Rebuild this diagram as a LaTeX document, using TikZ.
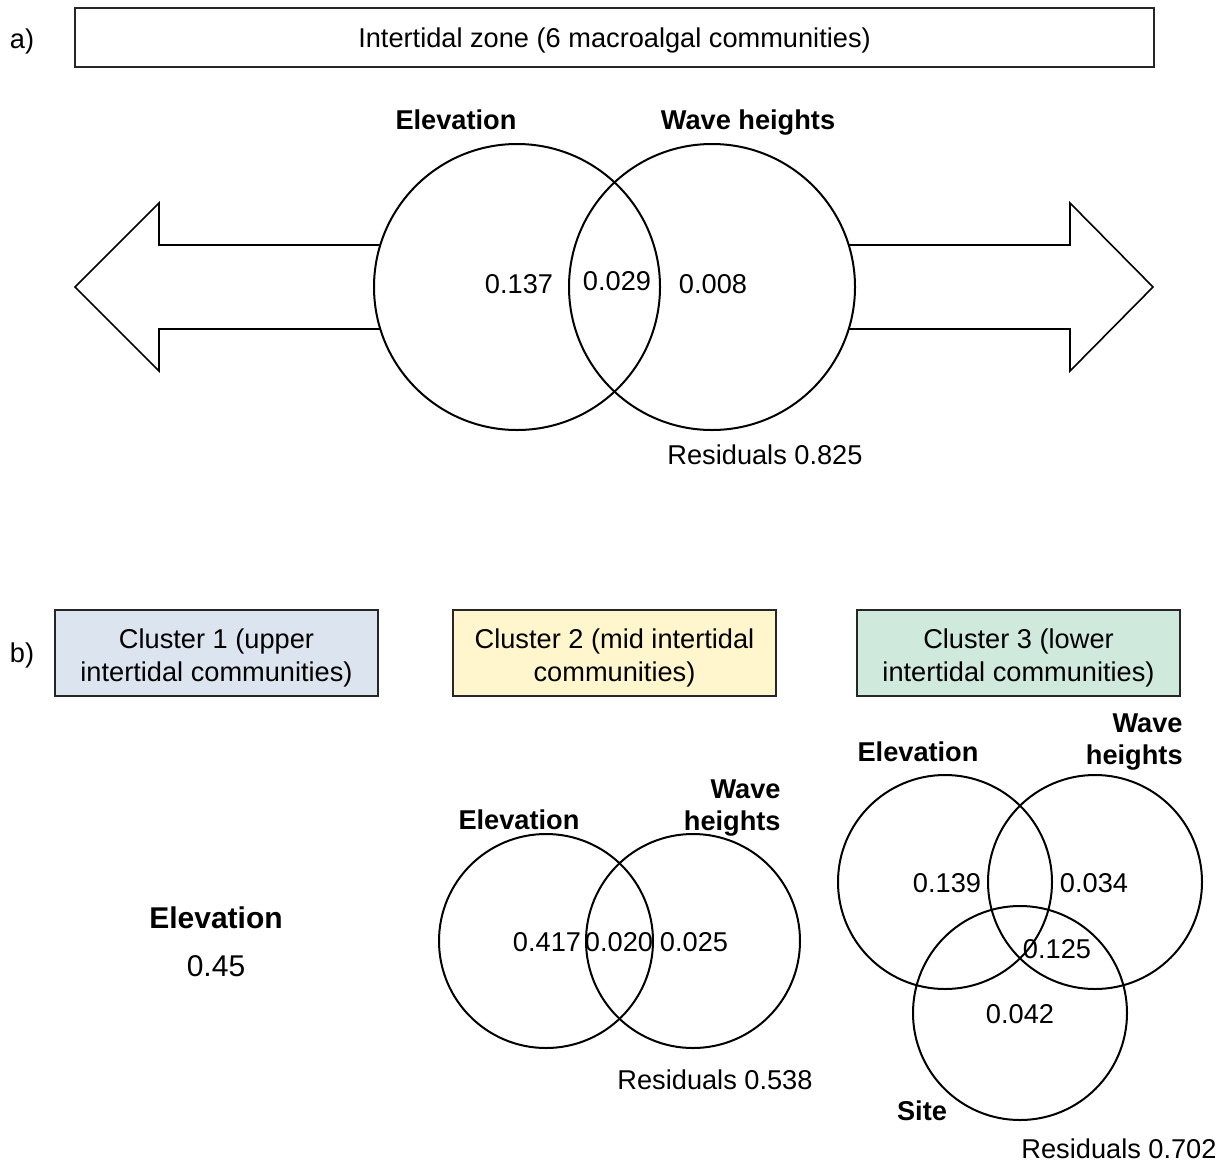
\documentclass[tikz,border=0pt]{standalone}
\usepackage{fontspec}
\setmainfont{Liberation Sans}
\usetikzlibrary{calc}

\definecolor{upperblue}{HTML}{DCE5EF}
\definecolor{midyellow}{HTML}{FFF6CE}
\definecolor{lowergreen}{HTML}{CFEADC}

\tikzset{
  txt/.style={font=\fontsize{13.6}{16}\selectfont, inner sep=0pt},
  varname/.style={font=\fontsize{13.6}{16}\selectfont\bfseries, inner sep=0pt},
  venn/.style={line width=1pt},
  bigarrow/.style={line width=0.8pt, line join=miter},
  clusterbox/.style={draw=black!85, line width=0.8pt, minimum width=161.5pt,
    minimum height=43pt, align=center, inner sep=0pt,
    font=\fontsize{13.6}{16.3}\selectfont}
}

\begin{document}
\begin{tikzpicture}[x=0.5pt,y=-0.5pt]

\useasboundingbox (0,0) rectangle (1225,1162);

% Radii of the Venn circles
\def\R{143}
\def\r{107}
% half height of the arrow shaft
\def\h{42}

% ---------------- a) ----------------
\node[txt] (labA) at (22,41) {a)};
\node[draw=black!85, line width=0.8pt, minimum width=539.5pt, minimum height=29.5pt,
  inner sep=0pt, font=\fontsize{13.6}{16}\selectfont] (zone) at (614.5,37.5)
  {\rule{0pt}{13pt}Intertidal zone (6 macroalgal communities)};

% Circle centres
\coordinate (E) at (517,287);
\coordinate (W) at (712,287);

% Left arrow, shaft stops on the circle
\draw[bigarrow] ({517-\R*sqrt(1-(\h/\R)^2)},245) -- (159,245) -- (159,203)
  -- (75,287) -- (159,371) -- (159,329) -- ({517-\R*sqrt(1-(\h/\R)^2)},329);

% Right arrow
\draw[bigarrow] ({712+\R*sqrt(1-(\h/\R)^2)},245) -- (1070,245) -- (1070,203)
  -- (1153,287) -- (1070,371) -- (1070,329) -- ({712+\R*sqrt(1-(\h/\R)^2)},329);

\draw[venn] (E) circle (\R);
\draw[venn] (W) circle (\R);

\node[varname] (elevA) at (456,120) {Elevation};
\node[varname] (waveA) at (748,123) {Wave heights};
\node[txt] (vEA) at (519,284) {0.137};
\node[txt] (vEWA) at (617,281) {0.029};
\node[txt] (vWA) at (713,284) {0.008};
\node[txt] (resA) at (765,455) {Residuals 0.825};

% ---------------- b) ----------------
\node[txt] (labB) at (22,655) {b)};
\node[clusterbox, fill=upperblue] (c1) at (216.5,653)
  {\rule{0pt}{15pt}Cluster 1 (upper\\intertidal communities)};
\node[clusterbox, fill=midyellow] (c2) at (614.5,653)
  {\rule{0pt}{15pt}Cluster 2 (mid intertidal\\communities)};
\node[clusterbox, fill=lowergreen] (c3) at (1018.5,653)
  {\rule{0pt}{15pt}Cluster 3 (lower\\intertidal communities)};

% Cluster 1
\node[varname, font=\fontsize{15}{18}\selectfont\bfseries] (elev1) at (216,918) {Elevation};
\node[txt, font=\fontsize{15}{18}\selectfont] (v1) at (216,966) {0.45};

% Cluster 2
\coordinate (E2) at (546,941);
\coordinate (W2) at (693,941);
\draw[venn] (E2) circle (\r);
\draw[venn] (W2) circle (\r);
\node[varname] (elev2) at (519,820) {Elevation};
\node[varname, align=right, anchor=east] (wave2) at (781,808) {Wave\\heights};
\node[txt] (vE2) at (547,942) {0.417};
\node[txt] (vEW2) at (619,942) {0.020};
\node[txt] (vW2) at (694,942) {0.025};
\node[txt] (res2) at (715,1080) {Residuals 0.538};

% Cluster 3
\coordinate (E3) at (945,882);
\coordinate (W3) at (1095,882);
\coordinate (S3) at (1020,1013);
\draw[venn] (E3) circle (\r);
\draw[venn] (W3) circle (\r);
\draw[venn] (S3) circle (\r);
\node[varname] (elev3) at (918,752) {Elevation};
\node[varname, align=right, anchor=east] (wave3) at (1183,742) {Wave\\heights};
\node[varname] (site3) at (922,1111) {Site};
\node[txt] (vE3) at (947,883) {0.139};
\node[txt] (vW3) at (1094,883) {0.034};
\node[txt] (vEWS3) at (1057,949) {0.125};
\node[txt] (vS3) at (1020,1014) {0.042};
\node[txt] (res3) at (1119,1149) {Residuals 0.702};

\end{tikzpicture}
\end{document}
